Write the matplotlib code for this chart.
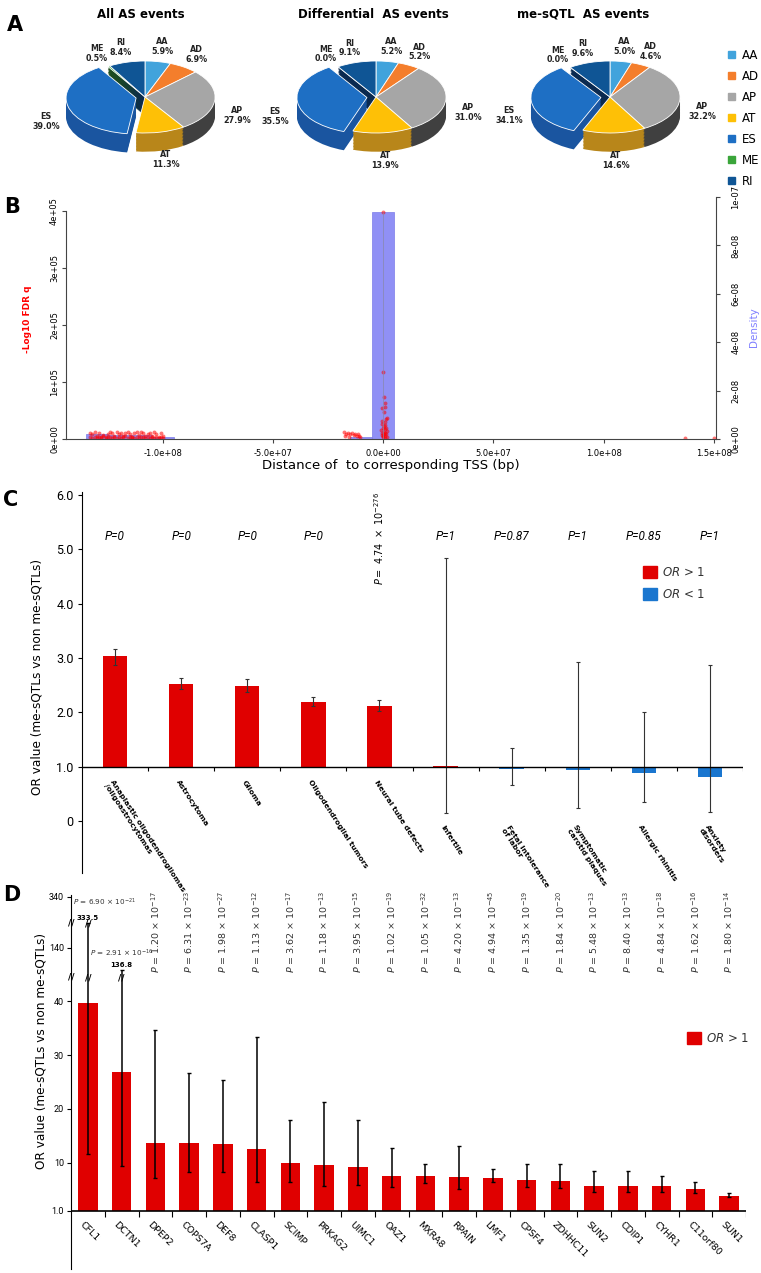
import numpy as np
import matplotlib
matplotlib.use("Agg")
import matplotlib.pyplot as plt
from matplotlib.patches import Patch

# ===============================
# Data
# ===============================
# A - share of AS event types (%)
as_types = ["AA", "AD", "AP", "AT", "ES", "ME", "RI"]
all_as = [5.9, 6.9, 27.9, 11.3, 39.0, 0.5, 8.4]
diff_as = [5.2, 5.2, 31.0, 13.9, 35.5, 0.0, 9.1]
mesqtl_as = [5.0, 4.6, 32.2, 14.6, 34.1, 0.0, 9.6]
pie_titles = ["All AS events", "Differential  AS events", "me-sQTL  AS events"]

# B - distance to TSS (1e6 bp) vs -log10 FDR q (1e3)
far_x = [-133, -132, -131, -130, -129, -128, -127, -126, -125, -124, -123, -122,
         -121, -120, -119, -118, -117, -116, -115, -114, -113, -112, -111, -110,
         -109, -108, -107, -106, -105, -104, -103, -102, -101, -100]
far_q = [11, 8, 12, 6, 10, 4, 7, 3, 9, 12, 11, 5, 12, 8, 10, 6, 11, 12, 9, 4,
         11, 12, 7, 12, 10, 5, 9, 11, 6, 12, 8, 3, 10, 5]
far_q_low = [3, 2, 4, 1, 3, 2, 5, 2, 3, 4, 2, 3, 1, 4, 2, 3, 5, 2, 3, 4, 1, 3,
             2, 4, 3, 2, 3, 1, 4, 2, 3, 2, 3, 1]
near_x = [-18, -17.5, -17, -16, -15.5, -15, -14, -13.5, -13, -12, -11.5, -11, -10.5]
near_q = [12, 6, 9, 11, 4, 8, 10, 7, 9, 5, 8, 6, 3]
tss_x = [0, 0, 0.4, 1.0, -0.6, 0.8, 0.2, 1.4, -0.4, 0.6, 1.6, -0.8, 1.0, 0.4, -0.2,
         1.4, 0.6, -1.0, 1.8, 0.2, -0.4, 0.8, 1.2, 0.4, -0.6, 1.0, 0.0, 1.6, -0.2, 0.6]
tss_q = [398, 117, 73, 63, 55, 56, 48, 35, 32, 29, 36, 26, 24, 22, 20, 19, 17, 15,
         14, 12, 11, 10, 9, 8, 7, 6, 5, 4, 3, 2]
right_x = [137, 150]
right_q = [2, 2]
hist_left = [-135, -125, -115, -105, -15, -5]     # bin left edges, 1e6 bp
hist_density = [2.2e-9, 1.8e-9, 1.5e-9, 0.9e-9, 0.7e-9, 9.38e-8]
bin_width = 10

# C - disease enrichment
diseases = ["Anaplastic oligodendrogliomas\n/oligoastrocytomas", "Astrocytoma", "Glioma",
            "Oligodendroglial tumors", "Neural tube defects", "Infertile",
            "Fetal intolerance\nof labor", "Symptomatic\ncarotid plaques",
            "Allergic rhinitis", "Anxiety\ndisorders"]
c_or = [3.03, 2.53, 2.48, 2.19, 2.11, 1.02, 0.96, 0.94, 0.88, 0.82]
c_lo = [2.87, 2.43, 2.37, 2.11, 2.02, 0.15, 0.67, 0.24, 0.35, 0.17]
c_hi = [3.17, 2.63, 2.61, 2.29, 2.22, 4.83, 1.35, 2.93, 2.00, 2.87]
c_p = ["0", "0", "0", "0", "4.74e-276", "1", "0.87", "1", "0.85", "1"]

# D - gene enrichment
genes = ["CFL1", "DCTN1", "DPEP2", "COPS7A", "DEF8", "CLASP1", "SCIMP", "PRKAG2",
         "UIMC1", "OAZ1", "MXRA8", "RPAIN", "LMF1", "CPSF4", "ZDHHC11", "SUN2",
         "CDIP1", "CYHR1", "C11orf80", "SUN1"]
d_or = [39.7, 26.8, 13.7, 13.6, 13.4, 12.5, 9.9, 9.5, 9.1, 7.6, 7.5, 7.3, 7.2,
        6.7, 6.6, 5.7, 5.6, 5.6, 5.0, 3.8]
d_lo = [11.6, 9.4, 7.2, 8.2, 8.3, 6.3, 6.4, 5.7, 5.8, 5.4, 6.2, 5.1, 6.4, 5.4,
        5.3, 4.5, 4.5, 4.5, 4.3, 3.6]
d_hi = [333.5, 136.8, 34.7, 26.6, 25.4, 33.3, 17.9, 21.2, 18.0, 12.8, 9.7, 13.0,
        8.8, 9.8, 9.7, 8.5, 8.4, 7.5, 6.4, 4.4]
d_p = ["6.90e-21", "2.91e-16", "1.20e-17", "6.31e-23", "1.98e-27", "1.13e-12",
       "3.62e-17", "1.18e-13", "3.95e-15", "1.02e-19", "1.05e-32", "4.20e-13",
       "4.94e-45", "1.35e-19", "1.84e-20", "5.48e-13", "8.40e-13", "4.84e-18",
       "1.62e-16", "1.80e-14"]
d_ticks = [1.0, 10, 20, 30, 40, 140, 340]

# ===============================
# Style
# ===============================
plt.rcParams["font.family"] = ["DejaVu Sans"]
plt.rcParams["mathtext.default"] = "regular"

W, H = 761, 1273
RED = "#e00000"
BLUE = "#1a76cf"
top_cols = ["#41a3dc", "#f47e2c", "#a6a6a6", "#fec006", "#1e6fc4", "#3aa53a", "#0f5595"]
side_cols = ["#2a7fb0", "#c0601a", "#404040", "#b8861a", "#1a55a0", "#1d4d1d", "#0b2a50"]

fig = plt.figure(figsize=(W / 100, H / 100), dpi=100)


def px_axes(left, top, right, bottom):
    return fig.add_axes([left / W, 1 - bottom / H, (right - left) / W, (bottom - top) / H])


def ptext(x, y, s, **kw):
    fig.text(x / W, 1 - y / H, s, **kw)


# ===============================
# A - pies
# ===============================
pie_cx = [145, 376, 610]
title_x = [141, 373, 583]
for cx, tx, vals, title in zip(pie_cx, title_x, [all_as, diff_as, mesqtl_as], pie_titles):
    ax = px_axes(cx - 100, 30, cx + 100, 168)
    rx, ry, cy = 70.0, 36.0, 97
    explode = [0.13 if t == "ES" else 0 for t in as_types]
    for dz in np.linspace(-0.52, 0, 14):
        top = dz == 0
        ax.pie(vals, colors=top_cols if top else side_cols, startangle=90,
               counterclock=False, explode=explode, center=(0, dz),
               wedgeprops=dict(linewidth=0.6 if top else 0, edgecolor="white"))
    ax.set_aspect("auto")
    ax.set_xlim(-100 / rx, 100 / rx)
    ax.set_ylim(-(168 - cy) / ry, (cy - 30) / ry)

    total = sum(vals)
    start = 0
    for name, v, ex in zip(as_types, vals, explode):
        mid = np.deg2rad(90 - 360 * (start + v / 2) / total)
        start += v
        c, s = np.cos(mid), np.sin(mid)
        lx = (1.32 + ex) * c
        ly = (1.42 + ex) * s - (0.35 if s < 0 else 0)
        ax.text(lx, ly, f"{name}\n{v:.1f}%", ha="center", va="center",
                fontsize=5.8, fontweight="bold", color="#222222", linespacing=1.1)
    ptext(tx, 14, title, ha="center", va="center", fontsize=8.5, fontweight="bold")

fig.legend(handles=[Patch(color=c) for c in top_cols], labels=as_types,
           loc="upper left", bbox_to_anchor=(717 / W, 1 - 38 / H), frameon=False,
           fontsize=8.5, handlelength=0.6, handleheight=0.6, handletextpad=0.6,
           labelspacing=0.68)

# ===============================
# B - distance to TSS
# ===============================
ax_b = px_axes(66, 195, 716, 439)
ax_h = ax_b.twinx()
ax_b.set_zorder(ax_h.get_zorder() + 1)
ax_b.patch.set_visible(False)

ax_h.bar(np.array(hist_left) * 1e6, hist_density, width=bin_width * 1e6, align="edge",
         color="#9090f5", edgecolor="#7b7be8", linewidth=0.5)
ax_b.vlines(0, 0, max(tss_q) * 1e3, color="#8888aa", linewidth=0.5)

pts_x = np.array(far_x + far_x + near_x + tss_x + right_x) * 1e6
pts_q = np.array(far_q + far_q_low + near_q + tss_q + right_q) * 1e3
ax_b.scatter(pts_x, pts_q, s=8, color="red", alpha=0.55, linewidths=0)

ax_b.set_xlim(-1.44e8, 1.51e8)
ax_b.set_ylim(0, 4e5 * 244 / 228)
ax_h.set_ylim(0, 1e-7 * 244 / 242)

ax_b.set_xticks([-1e8, -5e7, 0, 5e7, 1e8, 1.5e8])
ax_b.set_xticklabels(["-1.0e+08", "-5.0e+07", "0.0e+00", "5.0e+07", "1.0e+08", "1.5e+08"])
ax_b.set_yticks([0, 1e5, 2e5, 3e5, 4e5])
ax_b.set_yticklabels(["0e+00", "1e+05", "2e+05", "3e+05", "4e+05"], rotation=90, va="center")
ax_h.set_yticks([0, 2e-8, 4e-8, 6e-8, 8e-8, 1e-7])
ax_h.set_yticklabels(["0e+00", "2e-08", "4e-08", "6e-08", "8e-08", "1e-07"],
                     rotation=90, va="center")
ax_b.tick_params(labelsize=6, length=3, pad=2, color="#444444")
ax_b.tick_params(axis="x", pad=4)
ax_h.tick_params(labelsize=6, length=3, pad=8, color="#444444")

for a in (ax_b, ax_h):
    a.spines["top"].set_visible(False)
ax_b.spines["right"].set_visible(False)
ax_h.spines["left"].set_visible(False)
ax_h.spines["bottom"].set_visible(False)
ax_b.spines["left"].set_bounds(0, 4e5)
ax_h.spines["right"].set_bounds(0, 1e-7)
for sp in ("left", "bottom"):
    ax_b.spines[sp].set_color("#444444")
ax_h.spines["right"].set_color("#444444")

ax_b.set_xlabel("Distance of  to corresponding TSS (bp)", fontsize=9.5, labelpad=1)
ax_b.set_ylabel("-Log10 FDR q", color="red", fontsize=6.5, fontweight="bold")
ax_b.yaxis.set_label_coords((32 - 66) / 650, 0.49)
ax_h.set_ylabel("Density", color="#8080ff", fontsize=7.5)
ax_h.yaxis.set_label_coords((749 - 66) / 650, 0.46)

# ===============================
# C - diseases
# ===============================
ax_c = px_axes(82, 492, 743, 873)
xc = np.arange(len(diseases))
c_or_a, c_lo_a, c_hi_a = np.array(c_or), np.array(c_lo), np.array(c_hi)
ax_c.bar(xc, c_or_a - 1, bottom=1, width=0.37,
         color=[RED if v > 1 else BLUE for v in c_or], zorder=2)
ax_c.errorbar(xc, c_or_a, yerr=[c_or_a - c_lo_a, c_hi_a - c_or_a], fmt="none",
              ecolor="#333333", elinewidth=0.8, capsize=1.5, capthick=0.8, zorder=3)
ax_c.hlines(1, -0.5, len(diseases) - 0.5, color="black", linewidth=1, zorder=4)
ax_c.vlines(xc + 0.5, 0.92, 1.0, color="black", linewidth=0.8)

ax_c.set_xlim(-0.5, len(diseases) - 0.5)
ax_c.set_ylim(-0.95, 6.05)
ax_c.set_xticks([])
ax_c.set_yticks([0, 1, 2, 3, 4, 5, 6])
ax_c.set_yticklabels(["0", "1.0", "2.0", "3.0", "4.0", "5.0", "6.0"],
                     family=["Roboto", "DejaVu Sans"])
ax_c.tick_params(axis="y", labelsize=9, length=3, pad=3)
for sp in ("top", "right", "bottom"):
    ax_c.spines[sp].set_visible(False)

for i, (name, p) in enumerate(zip(diseases, c_p)):
    if "e" in p:
        m, e = p.split("e")
        ax_c.text(i, 4.35, r"$\it{P=\ " + m + r"\ \times\ 10^{" + str(int(e)) + r"}}$",
                  rotation=90, ha="center", va="bottom", fontsize=7)
    else:
        ax_c.text(i, 5.23, "P=" + p, ha="center", va="center", fontsize=8.5,
                  style="italic", family=["Roboto", "DejaVu Sans"])
    y_lab = 0.78 if c_or[i] > 1.5 else -0.05
    ax_c.text(i - 0.02, y_lab, name, rotation=-57, rotation_mode="anchor",
              ha="left", va="top", fontsize=5.4, fontweight="bold", linespacing=1.1)

ax_c.legend(handles=[Patch(color=RED), Patch(color=BLUE)],
            labels=[r"$\it{OR}$ > 1", r"$\it{OR}$ < 1"], loc="upper left",
            bbox_to_anchor=(632 / W, 1 - 555 / H), bbox_transform=fig.transFigure,
            frameon=False, fontsize=8.5, handlelength=1.25, handleheight=1.25,
            handletextpad=0.4, labelspacing=0.75, labelcolor="#333333")
ptext(37, 677, "OR value (me-sQTLs vs non me-sQTLs)", rotation=90, ha="center",
      va="center", fontsize=8.7)

# ===============================
# D - genes, broken y axis
# ===============================
breaks_u = [44.6, 54.6]


def brk(v):
    v = np.asarray(v, float)
    return np.where(v <= 44.6, v,
                    np.where(v <= 140, 44.6 + (v - 44.6) * (5.4 / 95.4),
                             50 + (v - 140) * (9.5 / 200)))


clip_top = {"CFL1": 54.6, "DCTN1": 45.9}
p_anchor = {"CFL1": (-0.45, 58.5), "DCTN1": (0.05, 48.9)}

ax_d = px_axes(71, 895, 746, 1269)
xd = np.arange(len(genes))
d_or_a, d_lo_a = np.array(d_or), np.array(d_lo)
d_top = brk(d_hi)
for g, t in clip_top.items():
    d_top[genes.index(g)] = t

ax_d.bar(xd, brk(d_or_a) - 1, bottom=1, width=0.58, color=RED, zorder=2)
ax_d.errorbar(xd, brk(d_or_a), yerr=[brk(d_or_a) - brk(d_lo_a), d_top - brk(d_or_a)],
              fmt="none", ecolor="black", elinewidth=1.1, capsize=1.5, capthick=1.0, zorder=3)
ax_d.hlines(1, -0.5, len(genes) - 0.5, color="black", linewidth=1.2, zorder=4)
ax_d.vlines(xd + 0.5, -0.2, 1.0, color="black", linewidth=0.8)

ax_d.set_xlim(-0.5, len(genes) - 0.5)
ax_d.set_ylim(-9.8, 59.8)
ax_d.set_xticks([])
ax_d.set_yticks(brk(d_ticks))
ax_d.set_yticklabels(["1.0", "10", "20", "30", "40", "140", "340"],
                     family=["Roboto", "DejaVu Sans"])
ax_d.tick_params(axis="y", labelsize=6.5, length=3, pad=2)
for sp in ("top", "right", "bottom"):
    ax_d.spines[sp].set_visible(False)

# break marks on axis and whiskers
for b in breaks_u:
    ax_d.text(-0.5, b, "//", ha="center", va="center", fontsize=6.5, fontweight="bold",
              clip_on=False)
    for i, t in enumerate(d_top):
        if t >= b - 0.1:
            ax_d.text(i, b - 0.2, "//", ha="center", va="center", fontsize=6.5,
                      fontweight="bold")

for i, (g, p) in enumerate(zip(genes, d_p)):
    m, e = p.split("e")
    ptxt = r"$\it{P}$ = " + m + r" × 10$^{" + str(int(e)) + r"}$"
    if g in clip_top:
        ax_d.text(i, d_top[i] + 0.4, f"{d_hi[i]:.1f}", ha="center", va="bottom",
                  fontsize=5, fontweight="bold")
        px_, py_ = p_anchor[g]
        ax_d.text(px_, py_, ptxt, ha="left", va="center", fontsize=5.2, color="#333333")
    else:
        ax_d.text(i, breaks_u[0] + 0.7, ptxt, rotation=90, ha="center", va="bottom",
                  fontsize=6.8, color="#333333")
    ax_d.text(i - 0.1, -0.6, g, rotation=-45, rotation_mode="anchor", ha="left",
              va="top", fontsize=6.8)

ax_d.legend(handles=[Patch(color=RED)], labels=[r"$\it{OR}$ > 1"], loc="upper left",
            bbox_to_anchor=(676 / W, 1 - 1021 / H), bbox_transform=fig.transFigure,
            frameon=False, fontsize=8.5, handlelength=1.25, handleheight=1.25,
            handletextpad=0.4, labelcolor="#333333")
ptext(41, 1051, "OR value (me-sQTLs vs non me-sQTLs)", rotation=90, ha="center",
      va="center", fontsize=8.7)

# panel letters
for letter, (lx, ly) in zip("ABCD", [(15, 25), (12, 207), (11, 500), (12, 895)]):
    ptext(lx, ly, letter, ha="center", va="center", fontsize=15, fontweight="bold")

fig.savefig("out.png", dpi=100)
